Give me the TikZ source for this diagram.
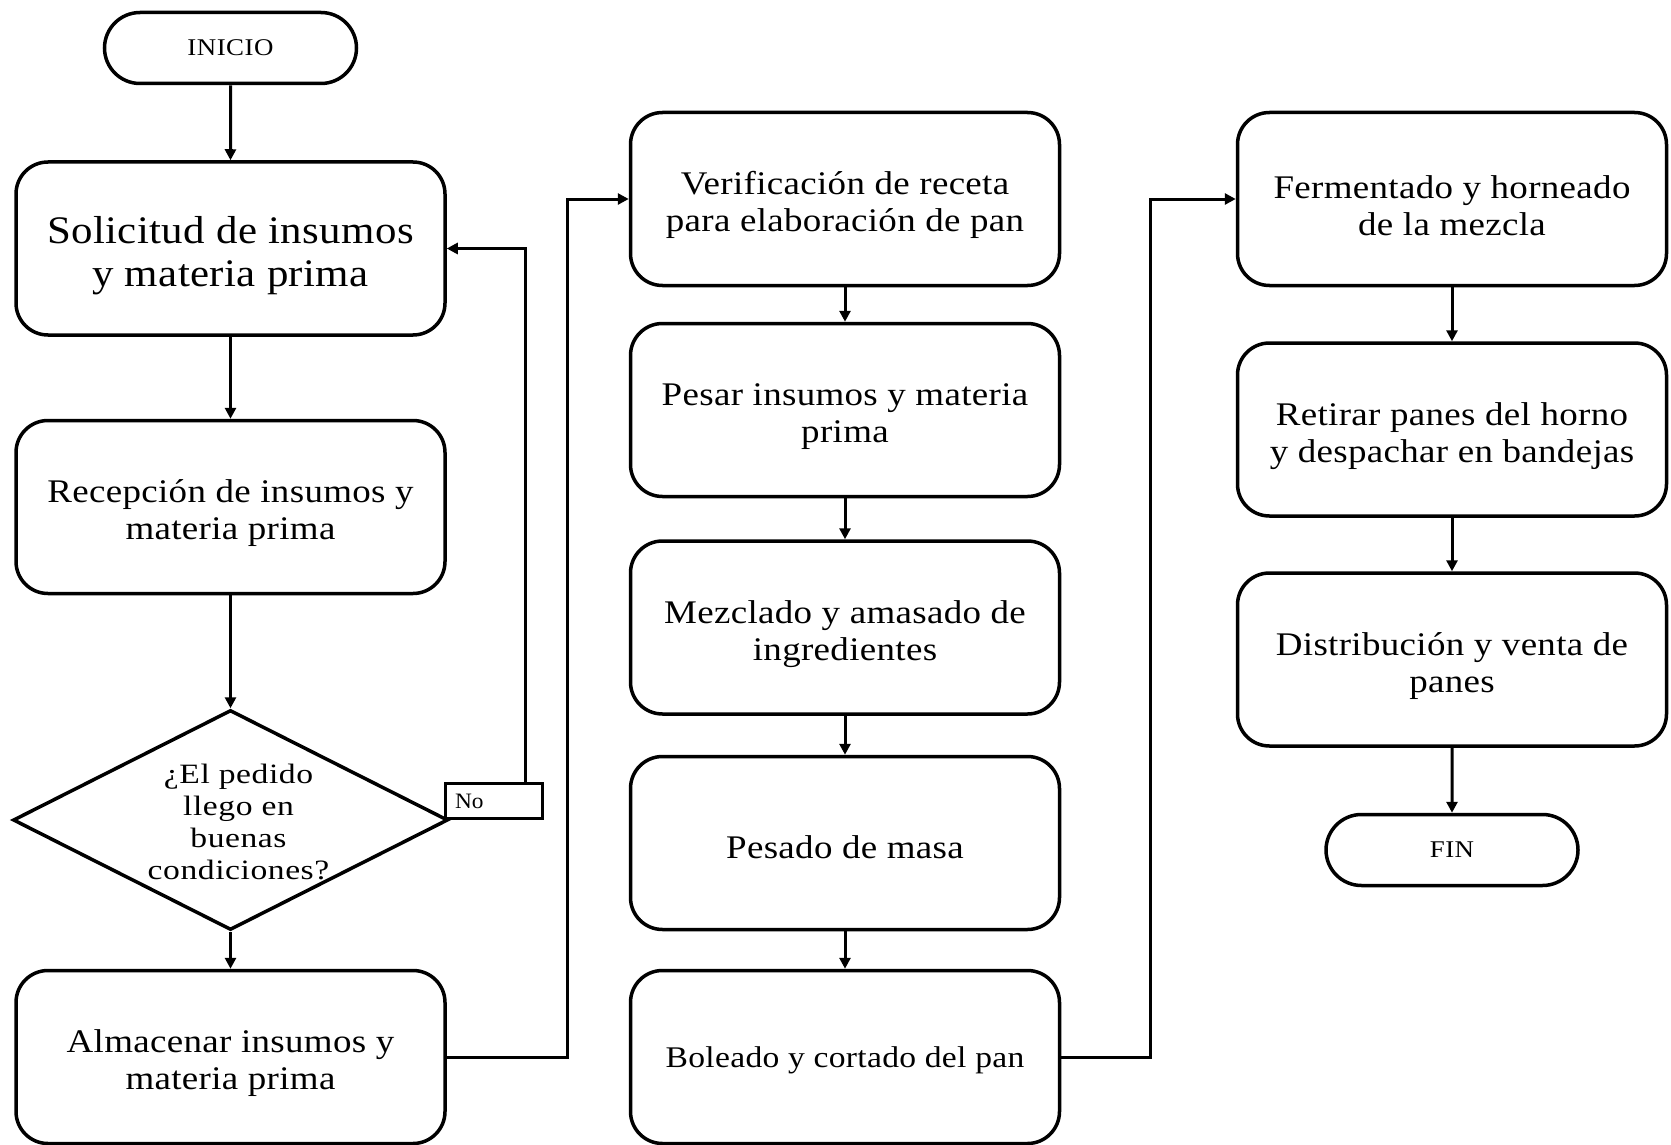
\documentclass[tikz,border=0pt]{standalone}
\usepackage{fontspec}
\setmainfont{Liberation Serif}
\newfontfamily\boxfont[FakeStretch=1.12,LetterSpace=1]{Liberation Serif}
\newfontfamily\solfont[FakeStretch=1.10,LetterSpace=1]{Liberation Serif}
\newfontfamily\decfont[FakeStretch=1.2,LetterSpace=2]{Liberation Serif}
\newfontfamily\termfont[FakeStretch=1.12,LetterSpace=2]{Liberation Serif}
\newfontfamily\nofont[FakeStretch=1.06]{Liberation Serif}
\newcommand\myTopStrut{\rule{0pt}{1.08em}}
\usetikzlibrary{arrows.meta,shapes.geometric,shapes.misc}
\tikzset{
  box/.style={draw, line width=3.5pt, rounded corners=32pt, minimum width=429pt, minimum height=173pt, align=center, inner sep=0pt, font=\boxfont\fontsize{33pt}{37pt}\selectfont},
  term/.style={draw, line width=3.5pt, rounded rectangle, minimum width=252pt, minimum height=71pt, inner sep=0pt, font=\termfont\fontsize{24pt}{26pt}\selectfont},
  arr/.style={line width=3pt, -{Triangle[width=11pt,length=11pt]}},
  nobox/.style={draw, line width=2.8pt, minimum width=97pt, minimum height=35pt, text width=77pt, align=left, inner xsep=10pt, inner ysep=0pt, font=\nofont\fontsize{22pt}{24pt}\selectfont}
}
\begin{document}
\begin{tikzpicture}[x=1pt,y=-1pt]
\useasboundingbox (0,0) rectangle (1671,1145);
% column 1
\node[term] (ini) at (230.5,48) {INICIO};
\node[box, font=\solfont\fontsize{39pt}{43pt}\selectfont] (sol) at (230.5,248.5) {\myTopStrut Solicitud de insumos\\y materia prima};
\node[box] (rec) at (230.5,507) {\myTopStrut Recepción de insumos y\\materia prima};
\node[diamond, draw, line width=3.5pt, minimum width=435pt, minimum height=220pt, inner sep=0pt] (dec) at (230.5,820) {};
\node[align=center, font=\decfont\fontsize{28pt}{32pt}\selectfont] (dectxt) at ([xshift=8pt,yshift=-2pt]dec.center) {¿El pedido\\llego en\\buenas\\condiciones?};
\node[nobox, anchor=south west] (no) at ([xshift=-6pt]dec.east) {No};
\node[box] (alm) at (230.5,1057) {\myTopStrut Almacenar insumos y\\materia prima};
% column 2
\node[box] (ver) at (845,199) {\myTopStrut Verificación de receta\\para elaboración de pan};
\node[box] (pes) at (845,410) {\myTopStrut Pesar insumos y materia\\prima};
\node[box] (mez) at (845,627.5) {\myTopStrut Mezclado y amasado de\\ingredientes};
\node[box] (pdm) at (845,843) {\rule{0pt}{0.92em}Pesado de masa};
\node[box, font=\boxfont\fontsize{30pt}{37pt}\selectfont] (bol) at (845,1057) {\rule{0pt}{0.92em}Boleado y cortado del pan};
% column 3
\node[box] (fer) at (1452,199) {\myTopStrut Fermentado y horneado\\de la mezcla};
\node[box] (ret) at (1452,429.5) {\myTopStrut Retirar panes del horno\\y despachar en bandejas};
\node[box] (dis) at (1452,659.5) {\myTopStrut Distribución y venta de\\panes};
\node[term] (fin) at (1452,850) {FIN};
% connectors
\draw[arr] (ini) -- (sol);
\draw[arr] (sol) -- (rec);
\draw[arr] (rec) -- (dec);
\draw[arr] (dec) -- (alm);
\draw[arr] ([xshift=-18pt]no.north east) |- (sol.east);
\draw[arr] (alm.east) -- ++(121,0) |- (ver.west);
\draw[arr] (ver) -- (pes);
\draw[arr] (pes) -- (mez);
\draw[arr] (mez) -- (pdm);
\draw[arr] (pdm) -- (bol);
\draw[arr] (bol.east) -- ++(89,0) |- (fer.west);
\draw[arr] (fer) -- (ret);
\draw[arr] (ret) -- (dis);
\draw[arr] (dis) -- (fin);
\end{tikzpicture}
\end{document}
